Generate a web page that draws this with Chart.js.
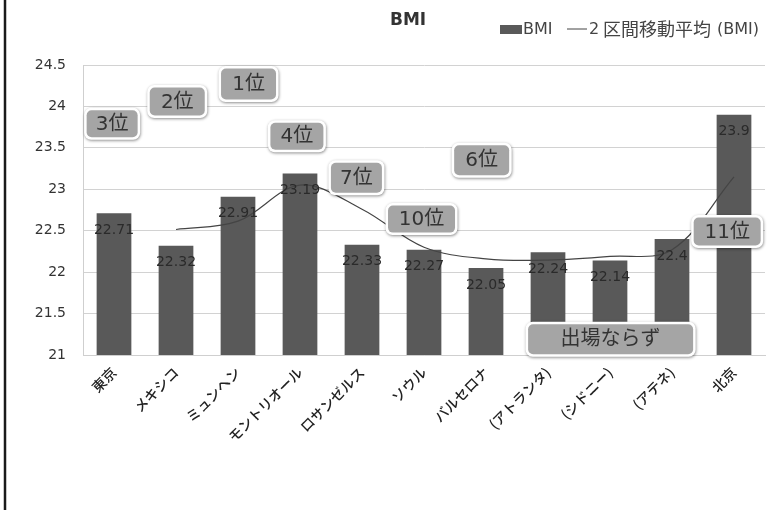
<!DOCTYPE html>
<html>
<head>
<meta charset="utf-8">
<script src="https://cdn.jsdelivr.net/npm/chart.js@4.4.1/dist/chart.umd.min.js"></script>
<style>
  html, body { margin: 0; padding: 0; background: #fff; }
  #wrap { position: relative; width: 767px; height: 510px; }
  canvas { display: block; }
</style>
</head>
<body>
<div id="wrap"><canvas id="c" width="767" height="510"></canvas></div>
<script>
// Host cities of each Olympic tournament
const cities = ['東京', 'メキシコ', 'ミュンヘン', 'モントリオール', 'ロサンゼルス', 'ソウル', 'バルセロナ', '(アトランタ)', '(シドニー)', '(アテネ)', '北京'];
// Average BMI of the squad
const bmi = [22.71, 22.32, 22.91, 23.19, 22.33, 22.27, 22.05, 22.24, 22.14, 22.4, 23.9];
// 2-period moving average of BMI
const movingAvg = [null, 22.515, 22.615, 23.05, 22.76, 22.3, 22.16, 22.145, 22.19, 22.27, 23.15];
// Final placing in each tournament
const ranks = ['3位', '2位', '1位', '4位', '7位', '10位', '6位', '', '', '', '11位'];
const notQualified = '出場ならず';
// Value axis ticks
const yTicks = [21, 21.5, 22, 22.5, 23, 23.5, 24, 24.5];

const LATIN = "'DejaVu Sans', 'Noto Sans CJK JP', sans-serif";
const CJK = "'Noto Sans CJK JP', 'DejaVu Sans', sans-serif";
const BAR_COLOR = '#595959';
const LINE_COLOR = '#444444';

// Where each placing tag sits: category position, value height, box size
const tagPlacement = {
  '3位':  { at: -0.03, v: 23.79, w: 56, h: 32 },
  '2位':  { at: 1.02,  v: 24.06, w: 60, h: 33 },
  '1位':  { at: 2.17,  v: 24.27, w: 60, h: 36 },
  '4位':  { at: 2.95,  v: 23.64, w: 58, h: 32 },
  '7位':  { at: 3.91,  v: 23.14, w: 56, h: 35 },
  '10位': { at: 4.96,  v: 22.64, w: 72, h: 32 },
  '6位':  { at: 5.93,  v: 23.35, w: 60, h: 35 },
  '11位': { at: 9.89,  v: 22.49, w: 72, h: 33 },
  '出場ならず': { at: 8.01, v: 21.19, w: 170, h: 35 }
};

function drawTag(ctx, cx, cy, w, h, text) {
  ctx.save();
  const x = cx - w / 2, y = cy - h / 2;
  // white rim with a soft shadow
  ctx.shadowColor = 'rgba(0,0,0,0.45)';
  ctx.shadowBlur = 3;
  ctx.shadowOffsetX = 0.5;
  ctx.shadowOffsetY = 1;
  ctx.fillStyle = '#ffffff';
  ctx.beginPath();
  ctx.roundRect(x, y, w, h, 7);
  ctx.fill();
  ctx.shadowColor = 'transparent';
  ctx.fillStyle = '#a5a5a5';
  ctx.beginPath();
  ctx.roundRect(x + 2.5, y + 2.5, w - 5, h - 5, 5);
  ctx.fill();
  ctx.fillStyle = '#333333';
  ctx.font = "20px " + LATIN;
  ctx.textAlign = 'center';
  ctx.textBaseline = 'middle';
  ctx.fillText(text, cx, cy + 1);
  ctx.restore();
}

const decorations = {
  id: 'decorations',
  afterDatasetsDraw(chart) {
    const ctx = chart.ctx;
    // value labels just below the top of each bar
    const meta = chart.getDatasetMeta(1);
    ctx.save();
    ctx.font = "14px " + LATIN;
    ctx.fillStyle = '#2a2a2a';
    ctx.textAlign = 'center';
    ctx.textBaseline = 'middle';
    meta.data.forEach((bar, i) => {
      ctx.fillText(String(bmi[i]), bar.x, bar.y + 17);
    });
    ctx.restore();
  },
  afterDraw(chart) {
    const ctx = chart.ctx;
    const xs = chart.scales.x, ys = chart.scales.y;

    // placing tags
    const tags = ranks.filter(r => r).concat([notQualified]);
    tags.forEach(t => {
      const p = tagPlacement[t];
      drawTag(ctx, xs.getPixelForValue(p.at), ys.getPixelForValue(p.v), p.w, p.h, t);
    });

    ctx.save();
    // title
    ctx.fillStyle = '#333';
    ctx.font = "bold 17px " + LATIN;
    ctx.textAlign = 'left';
    ctx.textBaseline = 'middle';
    ctx.fillText('BMI', 390, 21);

    // legend
    const ly = 29;
    ctx.fillStyle = BAR_COLOR;
    ctx.fillRect(500, ly - 4, 22, 9);
    ctx.fillStyle = '#444';
    ctx.font = "16px " + LATIN;
    ctx.fillText('BMI', 523, ly + 1);
    ctx.strokeStyle = LINE_COLOR;
    ctx.lineWidth = 1;
    ctx.beginPath();
    ctx.moveTo(567, ly);
    ctx.lineTo(587, ly);
    ctx.stroke();
    ctx.font = "16px " + LATIN;
    ctx.fillText('2', 589, ly + 1);
    ctx.font = "18px " + CJK;
    ctx.fillText('区間移動平均', 603, ly);
    ctx.font = "16px " + LATIN;
    ctx.fillText('(BMI)', 717, ly + 1);

    // frame line along the left edge
    ctx.strokeStyle = '#1a1a1a';
    ctx.lineWidth = 2.5;
    ctx.beginPath();
    ctx.moveTo(5, 0);
    ctx.lineTo(5, chart.height);
    ctx.stroke();
    ctx.restore();
  }
};

new Chart(document.getElementById('c'), {
  data: {
    labels: cities,
    datasets: [
      {
        type: 'line',
        label: '2 区間移動平均 (BMI)',
        data: movingAvg,
        borderColor: LINE_COLOR,
        borderWidth: 1.2,
        pointRadius: 0,
        tension: 0.35,
        fill: false,
        order: 0
      },
      {
        type: 'bar',
        label: 'BMI',
        data: bmi,
        backgroundColor: BAR_COLOR,
        borderWidth: 0,
        barPercentage: 0.56,
        categoryPercentage: 1,
        order: 1
      }
    ]
  },
  options: {
    responsive: false,
    animation: false,
    devicePixelRatio: 1,
    layout: { padding: { top: 65, right: 2, left: 0, bottom: 0 } },
    plugins: {
      legend: { display: false },
      title: { display: false },
      tooltip: { enabled: false }
    },
    scales: {
      x: {
        grid: { display: false, drawTicks: false },
        border: { display: true, color: '#cfcfcf', width: 1 },
        ticks: {
          autoSkip: false,
          minRotation: 45,
          maxRotation: 45,
          padding: 9,
          color: '#222',
          font: { family: CJK, size: 14, weight: '500' }
        },
        afterFit(scale) { scale.height = 155; }
      },
      y: {
        min: 21,
        max: 24.5,
        afterBuildTicks(scale) { scale.ticks = yTicks.map(v => ({ value: v })); },
        grid: { color: '#d2d2d2', lineWidth: 1, drawTicks: false },
        border: { display: true, color: '#cfcfcf', width: 1 },
        ticks: {
          padding: 17,
          color: '#333',
          font: { family: LATIN, size: 14 },
          callback: v => String(v)
        },
        afterFit(scale) { scale.width = 83; }
      }
    }
  },
  plugins: [decorations]
});
</script>
</body>
</html>
